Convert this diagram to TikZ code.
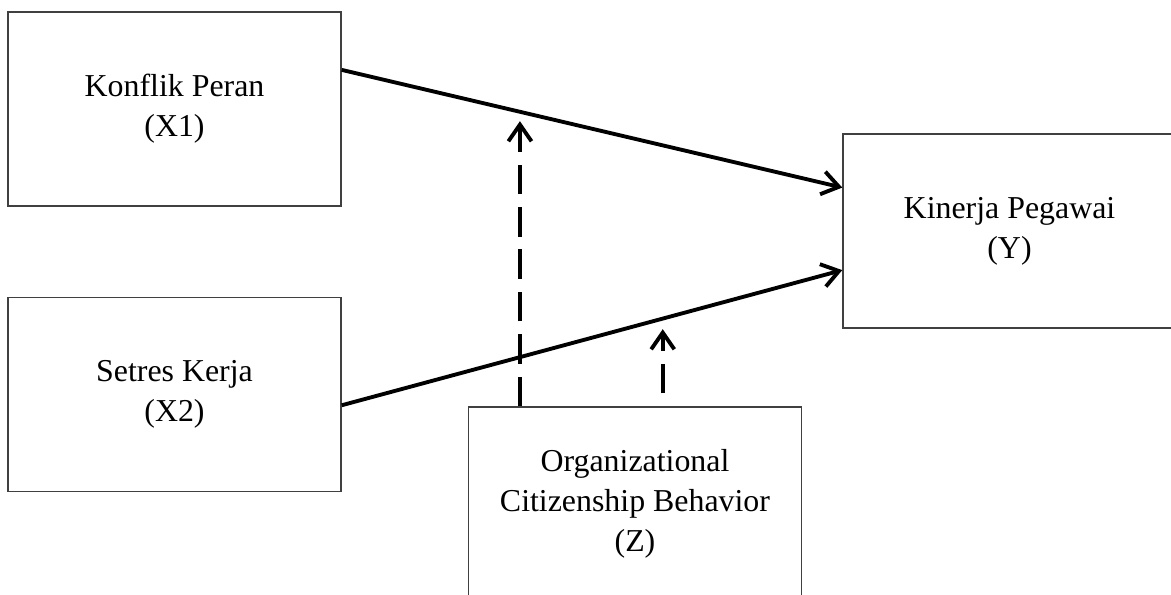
\documentclass[tikz,border=0pt]{standalone}
\usepackage{fontspec}
\setmainfont{Liberation Serif}
\usepackage{tikz}
\usetikzlibrary{calc,arrows.meta}

\begin{document}
\begin{tikzpicture}[x=0.389pt,y=-0.389pt,
    varbox/.style={draw=black!75,line width=0.6pt,minimum width=129.5pt,minimum height=75.5pt,
        align=center,font=\fontsize{12.4}{15.5}\selectfont,inner sep=0pt},
    path/.style={line width=1.5pt,-{Straight Barb[length=6.5pt,width=9pt,line width=1.5pt]}},
    moder/.style={path,dash pattern=on 11.5pt off 5pt}]
    % Frame of the picture
    \clip (0,0) rectangle (1171,594);

    % Variables
    \node[varbox] (x1) at (174.5,109) {Konflik Peran\\(X1)};
    \node[varbox] (x2) at (174.5,394.5) {Setres Kerja\\(X2)};
    \node[varbox] (y) at (1009.5,231) {Kinerja Pegawai\\(Y)};
    \node[varbox] (z) at (635,504) {Organizational\\Citizenship Behavior\\(Z)};

    % Direct paths
    \draw[path] ($(x1.north east)!0.3!(x1.south east)$) -- ($(y.north west)!0.278!(y.south west)$);
    \draw[path] ($(x2.north east)!0.555!(x2.south east)$) -- ($(y.north west)!0.70!(y.south west)$);

    % Moderating paths
    \coordinate (m1) at ($(z.north west)!0.156!(z.north east)+(0,-285)$);
    \coordinate (m2) at ($(z.north west)!0.583!(z.north east)+(0,-77)$);
    \draw[moder] ($(z.north west)!0.156!(z.north east)$) -- (m1);
    \draw[moder,dash phase=11.5pt] ($(z.north west)!0.583!(z.north east)$) -- (m2);
\end{tikzpicture}
\end{document}
